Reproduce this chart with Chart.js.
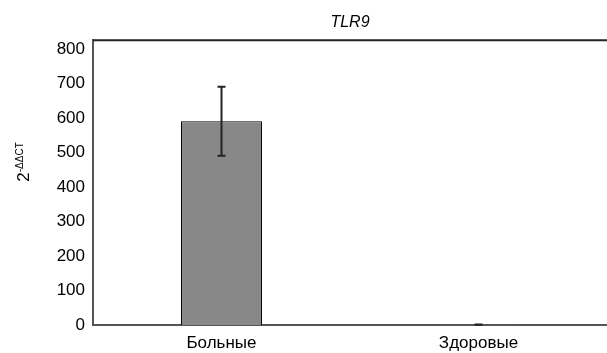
<!DOCTYPE html>
<html>
<head>
<meta charset="utf-8">
<script src="https://cdn.jsdelivr.net/npm/chart.js@4/dist/chart.umd.min.js"></script>
<style>
  html, body { margin: 0; padding: 0; background: #fff; }
  #wrap { width: 607px; height: 353px; }
</style>
</head>
<body>
<div id="wrap"><canvas id="myChart" width="607" height="353"></canvas></div>
<script>
  // chart data
  const groups = ['Больные', 'Здоровые']
  const values = [590, 1]
  const errors = [100, 0.5]
  const yTicks = [0, 100, 200, 300, 400, 500, 600, 700, 800]

  const FONT = '"Liberation Sans", Arial, sans-serif'

  // error bars, frame line on top and the y title with a superscript
  const extras = {
    id: 'extras',
    afterDatasetsDraw(chart) {
      const { ctx, chartArea, scales } = chart
      const meta = chart.getDatasetMeta(0)
      ctx.save()
      ctx.strokeStyle = '#222'
      ctx.lineWidth = 2
      meta.data.forEach((bar, i) => {
        const yTop = scales.y.getPixelForValue(values[i] + errors[i])
        const yBot = scales.y.getPixelForValue(values[i] - errors[i])
        ctx.beginPath()
        ctx.moveTo(bar.x, yTop)
        ctx.lineTo(bar.x, yBot)
        ctx.moveTo(bar.x - 4, yTop)
        ctx.lineTo(bar.x + 4, yTop)
        ctx.moveTo(bar.x - 4, yBot)
        ctx.lineTo(bar.x + 4, yBot)
        ctx.stroke()
      })
      // top line of the plot frame
      ctx.strokeStyle = '#222'
      ctx.lineWidth = 2
      ctx.beginPath()
      ctx.moveTo(chartArea.left, chartArea.top)
      ctx.lineTo(chart.width, chartArea.top)
      ctx.stroke()

      // y axis title: 2^-ΔΔCT
      ctx.translate(24, 162)
      ctx.rotate(-Math.PI / 2)
      ctx.fillStyle = '#000'
      ctx.textBaseline = 'middle'
      ctx.font = '17px ' + FONT
      const w1 = ctx.measureText('2').width
      ctx.font = '10px ' + FONT
      const w2 = ctx.measureText('-ΔΔCT').width
      const start = -(w1 + w2) / 2
      ctx.font = '17px ' + FONT
      ctx.textAlign = 'left'
      ctx.fillText('2', start, 0)
      ctx.font = '10px ' + FONT
      ctx.fillText('-ΔΔCT', start + w1, -4)
      ctx.restore()
    }
  }

  const ctx = document.getElementById('myChart')
  // eslint-disable-next-line no-unused-vars
  const myChart = new Chart(ctx, {
    type: 'bar',
    data: {
      labels: groups,
      datasets: [
        {
          data: values,
          backgroundColor: '#888888',
          borderColor: '#000',
          borderWidth: 1,
          barPercentage: 0.315,
          categoryPercentage: 1
        }
      ]
    },
    options: {
      responsive: false,
      animation: false,
      layout: { padding: { left: 0, right: 0, top: 0, bottom: 0 } },
      plugins: {
        legend: { display: false },
        tooltip: { enabled: false },
        title: {
          display: true,
          text: 'TLR9',
          fullSize: false,
          color: '#000',
          font: { family: FONT, size: 16, style: 'italic', weight: 'normal' },
          padding: { top: 13, bottom: 8 }
        }
      },
      scales: {
        x: {
          grid: { display: false, drawTicks: false },
          border: { display: true, color: '#555', width: 2 },
          ticks: { color: '#000', font: { family: FONT, size: 17 }, padding: 8 },
          afterFit: s => { s.height = 28 }
        },
        y: {
          min: 0,
          max: 825,
          grid: { display: false, drawTicks: false },
          border: { display: true, color: '#555', width: 2 },
          ticks: { color: '#000', font: { family: FONT, size: 17 }, padding: 8, stepSize: 100 },
          afterBuildTicks: s => { s.ticks = yTicks.map(v => ({ value: v })) },
          afterFit: s => { s.width = 93 }
        }
      }
    },
    plugins: [extras]
  })
</script>
</body>
</html>
